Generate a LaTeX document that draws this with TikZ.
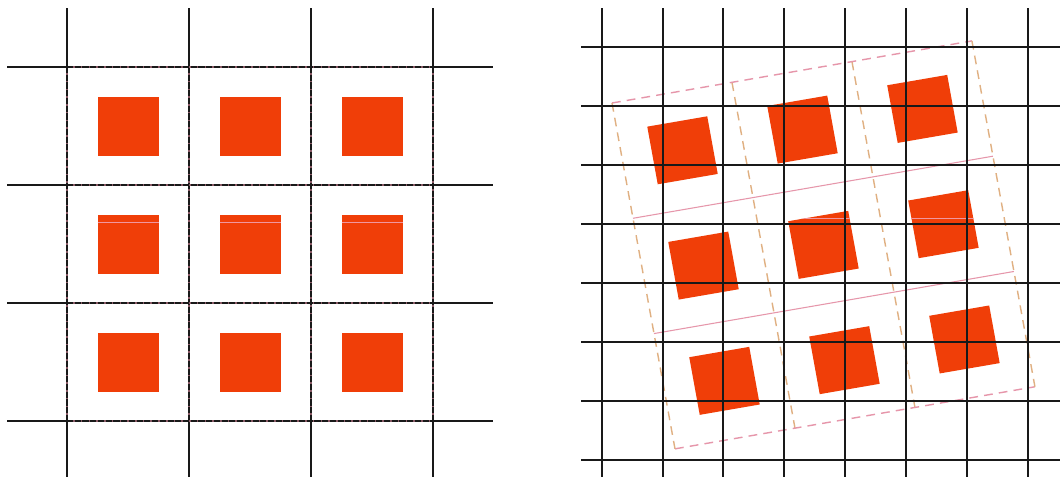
\documentclass[tikz,border=0pt]{standalone}
\definecolor{sqred}{RGB}{240,62,8}
\definecolor{pinkln}{RGB}{230,150,170}
\definecolor{tanln}{RGB}{224,176,130}
\definecolor{artln}{RGB}{240,150,160}
\tikzset{
  gridline/.style={line width=1.1pt, black!90},
  innerbase/.style={line width=1.1pt, pinkln!60!black},
  innerdash/.style={line width=1.1pt, black!90, dash pattern=on 3.5pt off 0.9pt},
  sq/.style={fill=sqred, draw=none},
  framepink/.style={line width=0.8pt, pinkln, dash pattern=on 5pt off 3.5pt},
  frametan/.style={line width=0.8pt, tanln, dash pattern=on 5pt off 3.5pt},
  innerpink/.style={line width=0.6pt, pinkln},
  artifact/.style={line width=0.5pt, artln},
}
\begin{document}
\begin{tikzpicture}[x=0.02cm, y=-0.02cm]
\useasboundingbox (0,0) rectangle (1060,477);
\fill[white] (0,0) rectangle (1060,477);

% ---------------- left panel ----------------
\foreach \cx in {128,250,372}{
  \foreach \cy in {126,244,362}{
    \fill[sq] ({\cx-30.5},{\cy-29.5}) rectangle ({\cx+30.5},{\cy+29.5});
  }
}
\foreach \cx in {128,250,372}{
  \draw[artifact] ({\cx-30.5},222.7) -- ({\cx+30.5},222.7);
}
\foreach \gx in {67,189,311,433}{
  \draw[gridline] (\gx,8) -- (\gx,67);
  \draw[gridline] (\gx,421) -- (\gx,477);
  \draw[innerbase] (\gx,67) -- (\gx,421);
  \draw[innerdash] (\gx,67) -- (\gx,421);
}
\foreach \gy in {67,185,303,421}{
  \draw[gridline] (7,\gy) -- (67,\gy);
  \draw[gridline] (433,\gy) -- (493,\gy);
  \draw[innerbase] (67,\gy) -- (433,\gy);
  \draw[innerdash] (67,\gy) -- (433,\gy);
}

% ---------------- right panel ----------------
\coordinate (pa) at (590,218.5);
\coordinate (pb) at (1060,218.5);
\begin{scope}[shift={(612,103)}, x={(2.4cm,0.414cm)}, y={(0.42cm,-2.306cm)}]
  \draw[innerpink] (0,1) -- (3,1);
  \draw[innerpink] (0,2) -- (3,2);
  \draw[frametan] (1,0) -- (1,3);
  \draw[frametan] (2,0) -- (2,3);
  \draw[framepink] (0,0) -- (3,0);
  \draw[framepink] (0,3) -- (3,3);
  \draw[frametan] (0,0) -- (0,3);
  \draw[frametan] (3,0) -- (3,3);
  \foreach \i in {0,1,2}{
    \foreach \j in {0,1,2}{
      \fill[sq] ({\i+0.25},{\j+0.25}) -- ({\i+0.75},{\j+0.25}) -- ({\i+0.75},{\j+0.75}) -- ({\i+0.25},{\j+0.75}) -- cycle;
    }
  }
  \begin{scope}
    \clip (1.25,1.25) -- (1.75,1.25) -- (1.75,1.75) -- (1.25,1.75) -- cycle
          (2.25,1.25) -- (2.75,1.25) -- (2.75,1.75) -- (2.25,1.75) -- cycle;
    \draw[artifact] (pa) -- (pb);
  \end{scope}
\end{scope}
\foreach \k in {0,...,7}{
  \draw[gridline] ({601.7+60.85*\k},8) -- ({601.7+60.85*\k},477);
  \draw[gridline] (581,{46.7+59.1*\k}) -- (1060,{46.7+59.1*\k});
}
\end{tikzpicture}
\end{document}
